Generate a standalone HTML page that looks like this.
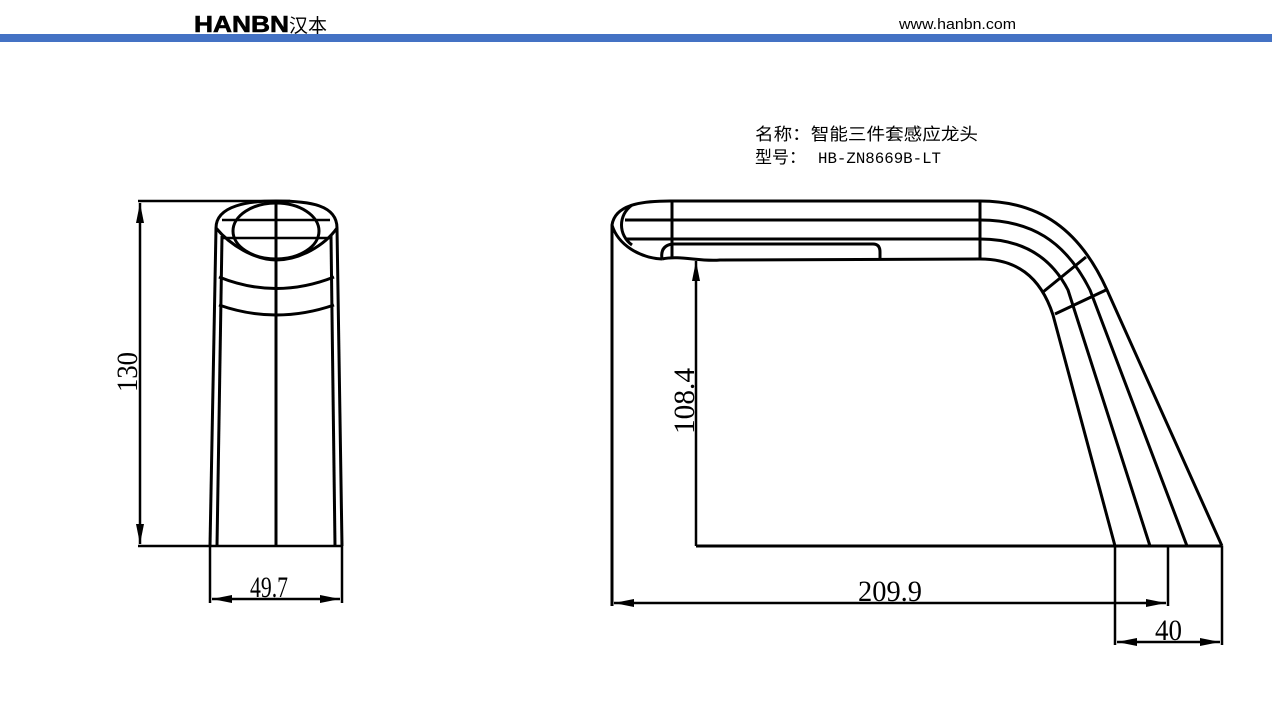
<!DOCTYPE html>
<html><head><meta charset="utf-8"><style>
html,body{margin:0;padding:0;background:#fff;width:1280px;height:720px;overflow:hidden}
</style></head><body>
<svg width="1280" height="720" viewBox="0 0 1280 720" xmlns="http://www.w3.org/2000/svg">
<defs>
<marker id="a" viewBox="0 0 20 8" refX="20" refY="4" markerWidth="20" markerHeight="8" markerUnits="userSpaceOnUse" orient="auto-start-reverse"><path d="M0,0 L20,4 L0,8 Z" fill="#000"/></marker>
</defs>
<text x="194" y="32" font-family="Liberation Sans, sans-serif" font-weight="bold" font-size="23" textLength="95" lengthAdjust="spacingAndGlyphs" stroke="#000" stroke-width="0.6">HANBN</text>
<text x="289" y="32" font-family="Liberation Sans, 'Noto Sans CJK SC', sans-serif" font-size="19">汉本</text>
<text x="899" y="29" font-family="Liberation Sans, sans-serif" font-size="15" textLength="117" lengthAdjust="spacingAndGlyphs">www.hanbn.com</text>
<rect x="0" y="34" width="1272" height="8" fill="#4472c4"/>
<text x="755" y="140" font-family="'Noto Sans CJK SC',sans-serif" font-size="17" textLength="223" lengthAdjust="spacingAndGlyphs">名称：智能三件套感应龙头</text>
<text x="755" y="163" font-family="'Noto Sans CJK SC',sans-serif" font-size="17">型号：</text>
<text x="818" y="163" font-family="'Liberation Mono',monospace" font-size="16" textLength="123" lengthAdjust="spacingAndGlyphs">HB-ZN8669B-LT</text>

<g fill="none" stroke="#000" stroke-width="3">
<!-- left view -->
<line x1="138" y1="201" x2="290" y2="201" stroke-width="2.5"/>
<line x1="138" y1="546" x2="343" y2="546" stroke-width="2.5"/>
<line x1="140" y1="203" x2="140" y2="544" stroke-width="2.5" marker-start="url(#a)" marker-end="url(#a)"/>
<path d="M216,228 C216,205 250,201 276,201 C310,201 337,205 337,228"/>
<path d="M216,228 C230,245 255,260 276,260 C300,260 325,245 337,228"/>
<ellipse cx="276" cy="231" rx="43" ry="28"/>
<line x1="222" y1="220" x2="330" y2="220" stroke-width="2.5"/>
<line x1="222" y1="238" x2="330" y2="238" stroke-width="2.5"/>
<line x1="216" y1="228" x2="210" y2="546"/>
<line x1="222" y1="236" x2="217" y2="546"/>
<line x1="337" y1="228" x2="342" y2="546"/>
<line x1="331" y1="236" x2="335" y2="546"/>
<line x1="276" y1="201" x2="276" y2="546"/>
<path d="M219,277 Q276,300 334,277"/>
<path d="M219,305 Q276,325 334,305"/>
<line x1="210" y1="546" x2="210" y2="603" stroke-width="2.5"/>
<line x1="342" y1="546" x2="342" y2="603" stroke-width="2.5"/>
<line x1="212" y1="599" x2="340" y2="599" stroke-width="2.5" marker-start="url(#a)" marker-end="url(#a)"/>

<!-- right view -->
<line x1="670" y1="201" x2="980" y2="201"/>
<line x1="625" y1="220" x2="980" y2="220"/>
<line x1="625" y1="239" x2="980" y2="239"/>
<path d="M662,259 C680,255 700,262 720,260 L980,259"/>
<line x1="672" y1="201" x2="672" y2="259"/>
<line x1="980" y1="201" x2="980" y2="259"/>
<path d="M612,606 L612,225 C615,205 640,201 670,201"/>
<path d="M612,225 C618,245 640,258 662,259"/>
<path d="M632,205 C618,215 618,235 632,245"/>
<path d="M672,244 L873,244 Q880,244 880,252 L880,259"/>
<path d="M672,244 Q660,246 662,259"/>
<path d="M980,201 C1040,201 1080,230 1107,290 L1222,546"/>
<path d="M980,220 C1030,220 1065,240 1090,290 L1187,546"/>
<path d="M980,239 C1020,239 1050,255 1068,290 L1150,546"/>
<path d="M980,259 C1015,259 1040,275 1053,315 L1115,546"/>
<line x1="1043" y1="292" x2="1086" y2="257"/>
<line x1="1055" y1="314" x2="1106" y2="290"/>
<line x1="696" y1="546" x2="1222" y2="546"/>
<line x1="1115" y1="546" x2="1115" y2="645" stroke-width="2.5"/>
<line x1="1168" y1="546" x2="1168" y2="606" stroke-width="2.5"/>
<line x1="1222" y1="546" x2="1222" y2="645" stroke-width="2.5"/>
<line x1="614" y1="603" x2="1166" y2="603" stroke-width="2.5" marker-start="url(#a)" marker-end="url(#a)"/>
<line x1="1117" y1="642" x2="1220" y2="642" stroke-width="2.5" marker-start="url(#a)" marker-end="url(#a)"/>
<line x1="696" y1="546" x2="696" y2="261" stroke-width="2.5" marker-end="url(#a)"/>
</g>
<g font-family="'Liberation Serif',serif" font-size="30" fill="#000">
<text x="250" y="597" textLength="38" lengthAdjust="spacingAndGlyphs">49.7</text>
<text x="858" y="601" textLength="64" lengthAdjust="spacingAndGlyphs">209.9</text>
<text x="1155" y="640" textLength="27" lengthAdjust="spacingAndGlyphs">40</text>
<text transform="translate(137,392) rotate(-90)" textLength="40" lengthAdjust="spacingAndGlyphs">130</text>
<text transform="translate(694,434) rotate(-90)" textLength="66" lengthAdjust="spacingAndGlyphs">108.4</text>
</g>
</svg>
</body></html>
